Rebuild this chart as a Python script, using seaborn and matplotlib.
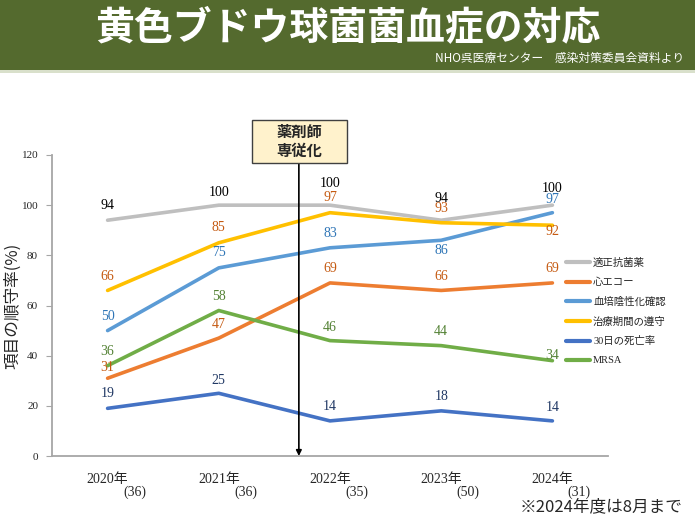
import numpy as np
import pandas as pd
import matplotlib
matplotlib.use("Agg")
import matplotlib.pyplot as plt
import seaborn as sns
from matplotlib.patches import Rectangle

# data
years = ["2020年", "2021年", "2022年", "2023年", "2024年"]
cases = [36, 36, 35, 50, 31]
series = ["適正抗菌薬", "心エコー", "血培陰性化確認", "治療期間の遵守", "30日の死亡率", "MRSA"]
appropriate_abx = [94, 100, 100, 94, 100]
echo = [31, 47, 69, 66, 69]
blood_culture = [50, 75, 83, 86, 97]
duration = [66, 85, 97, 93, 92]
mortality_30d = [19, 25, 14, 18, 14]
mrsa = [36, 58, 46, 44, 38]
# numbers printed on the slide (MRSA 2024 is printed as 34)
mrsa_labels = [36, 58, 46, 44, 34]

values = [appropriate_abx, echo, blood_culture, duration, mortality_30d, mrsa]
labels = [appropriate_abx, echo, blood_culture, duration, mortality_30d, mrsa_labels]

line_colors = ["#BFBFBF", "#ED7D31", "#5B9BD5", "#FFC000", "#4472C4", "#70AD47"]
text_colors = ["#000000", "#C55A11", "#2E75B6", "#C55A11", "#203864", "#548235"]

df = pd.DataFrame({
    "year": years * len(series),
    "rate": np.concatenate(values),
    "item": np.repeat(series, len(years)),
})

sns.set_style("white")
SERIF = ["Liberation Serif", "Noto Sans CJK JP"]
GOTH = ["Noto Sans CJK JP", "DejaVu Sans"]
plt.rcParams["font.family"] = SERIF

fig = plt.figure(figsize=(6.95, 5.21), dpi=100)
ax = fig.add_axes([52 / 695, 1 - 456 / 521, 556 / 695, 301 / 521])

sns.lineplot(data=df, x="year", y="rate", hue="item", hue_order=series,
             palette=dict(zip(series, line_colors)), linewidth=2.6, ax=ax, sort=False)

# data labels (pixel offsets above each point)
offsets = [[15, 13, 22, 22, 17],
           [11, 14, 14, 14, 14],
           [14, 15, 14, -10, 13],
           [14, 15, 15, 14, -6],
           [15, 13, 14, 14, 13],
           [14, 14, 13, 14, 15]]
for s in range(len(series)):
    for i in range(len(years)):
        ax.annotate(str(labels[s][i]), xy=(i, labels[s][i]), xytext=(0, offsets[s][i]),
                    textcoords="offset pixels", ha="center", va="center",
                    fontsize=10, color=text_colors[s], family=SERIF)

ax.set_xlim(-0.5, 4.5)
ax.set_ylim(0, 120)
ax.set_yticks(range(0, 121, 20))
ax.tick_params(axis="y", labelsize=8, length=4, color="#A6A6A6", direction="out", left=True, pad=6)
ax.tick_params(axis="x", labelsize=10, length=0, pad=12)
for t in ax.get_xticklabels():
    t.set_family(SERIF)
ax.set_xlabel("")
ax.set_ylabel("項目の順守率(%)", fontsize=12, family=GOTH)
ax.yaxis.set_label_coords(-0.055, 0.5)
for side in ["top", "right"]:
    ax.spines[side].set_visible(False)
for side in ["left", "bottom"]:
    ax.spines[side].set_color("#A6A6A6")
    ax.spines[side].set_linewidth(1.3)

# case counts under each year
for i, n in enumerate(cases):
    ax.annotate(f"({n})", xy=(i, 0), xytext=(27, -36), textcoords="offset pixels",
                ha="center", va="center", fontsize=10, family=SERIF, annotation_clip=False)

# intervention marker
intervention_x = 1.72
ax.annotate("", xy=(intervention_x, 0), xytext=(intervention_x, 117),
            arrowprops=dict(arrowstyle="-|>", color="black", lw=1.2, mutation_scale=8,
                            shrinkA=0, shrinkB=0),
            annotation_clip=False)
fig.patches.append(Rectangle((252 / 695, 1 - 163 / 521), 95 / 695, 43 / 521,
                             transform=fig.transFigure, facecolor="#FFF2CC",
                             edgecolor="#404040", linewidth=1))
fig.text(299.5 / 695, 1 - 141.5 / 521, "薬剤師\n専従化", ha="center", va="center",
         fontsize=11, weight="bold", family=GOTH, linespacing=1.2)

# legend
handles, labs = ax.get_legend_handles_labels()
leg = ax.legend(handles, labs, loc="upper left", bbox_to_anchor=(566 / 695, 1 - 258 / 521),
                bbox_transform=fig.transFigure, frameon=False, prop=dict(family=SERIF, size=7.5),
                handlelength=2.3, handletextpad=0.3, labelspacing=0.92,
                borderaxespad=0, borderpad=0)
for h in leg.get_lines():
    h.set_linewidth(3)

# header banner
fig.patches.append(Rectangle((0, 1 - 70 / 521), 1, 70 / 521, transform=fig.transFigure,
                             facecolor="#546A2E", edgecolor="none"))
fig.patches.append(Rectangle((0, 1 - 73 / 521), 1, 3 / 521, transform=fig.transFigure,
                             facecolor="#D9E0CB", edgecolor="none"))
fig.text(348 / 695, 1 - 28 / 521, "黄色ブドウ球菌菌血症の対応", ha="center", va="center",
         fontsize=28, weight="bold", color="white", family=GOTH)
fig.text(684 / 695, 1 - 58 / 521, "NHO呉医療センター　感染対策委員会資料より", ha="right",
         va="center", fontsize=8.5, color="white", family=GOTH)

fig.text(683 / 695, 1 - 507 / 521, "※2024年度は8月まで", ha="right", va="center",
         fontsize=12, family=GOTH)

fig.savefig("out.png", dpi=100)
plt.close()
